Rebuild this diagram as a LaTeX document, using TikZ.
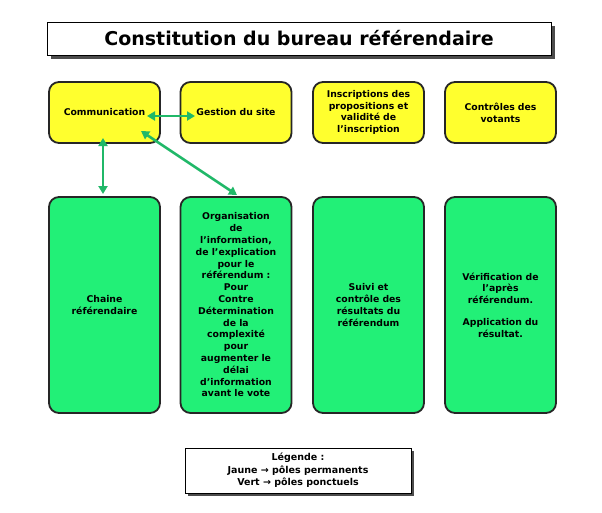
\documentclass[tikz,border=0pt]{standalone}
\usepackage{fontspec}
\setmainfont{DejaVu Sans}
\usetikzlibrary{arrows.meta}
\definecolor{yel}{HTML}{FFFF2E}
\definecolor{grn}{HTML}{22F077}
\definecolor{arr}{HTML}{20B868}
\begin{document}
\begin{tikzpicture}[x=1pt,y=-1pt,
  box/.style={draw=black!85,line width=1.8pt,rounded corners=10pt,align=center,inner sep=1pt,
    font=\fontsize{9.3}{11.8}\selectfont\bfseries,text width=108pt},
  ybox/.style={box,fill=yel,minimum width=111pt,minimum height=61pt},
  gbox/.style={box,fill=grn,minimum width=111pt,minimum height=216pt},
  link/.style={draw=arr,line width=2.6pt,{Triangle[length=8pt,width=9pt]}-{Triangle[length=8pt,width=9pt]}}]
\useasboundingbox[fill=white] (0,0) rectangle (602,512);
\fill[black!70] (51,26) rectangle (555,59);
\node[draw,fill=white,line width=0.8pt,minimum width=504pt,minimum height=33pt,font=\fontsize{19}{22}\selectfont\bfseries] (title) at (299,38.5) {Constitution du bureau référendaire};
\node[ybox] (y1) at (104.5,112.5) {Communication};
\node[ybox] (y2) at (236,112.5) {Gestion du site};
\node[ybox] (y3) at (368.5,112.5) {Inscriptions des\\propositions et\\validité de\\l’inscription};
\node[ybox] (y4) at (500.5,112.5) {Contrôles des\\votants};
\node[gbox,text width=100pt] (g1) at (104.5,305) {Chaine\\référendaire};
\node[gbox] (g2) at (236,305) {Organisation\\de\\l’information,\\de l’explication\\pour le\\référendum :\\Pour\\Contre\\Détermination\\de la\\complexité\\pour\\augmenter le\\délai\\d’information\\avant le vote};
\node[gbox] (g3) at (368.5,305) {Suivi et\\contrôle des\\résultats du\\référendum};
\node[gbox] (g4) at (500.5,305) {Vérification de\\l’après\\référendum.\\[10pt]Application du\\résultat.};
\coordinate (a1) at (147,116);
\coordinate (a2) at (195,116);
\draw[link] (a1) -- (a2);
\coordinate (b1) at (103,138);
\coordinate (b2) at (103,194);
\draw[link] (b1) -- (b2);
\coordinate (c1) at (141,131);
\coordinate (c2) at (237,195);
\draw[link] (c1) -- (c2);
\fill[black!70] (188,451) rectangle (414,496);
\node[draw,fill=white,line width=0.8pt,minimum width=226pt,minimum height=45pt,align=center,font=\fontsize{9.5}{12.5}\selectfont\bfseries] (leg) at (298,470.5) {Légende :\\Jaune → pôles permanents\\Vert → pôles ponctuels};
\end{tikzpicture}
\end{document}
